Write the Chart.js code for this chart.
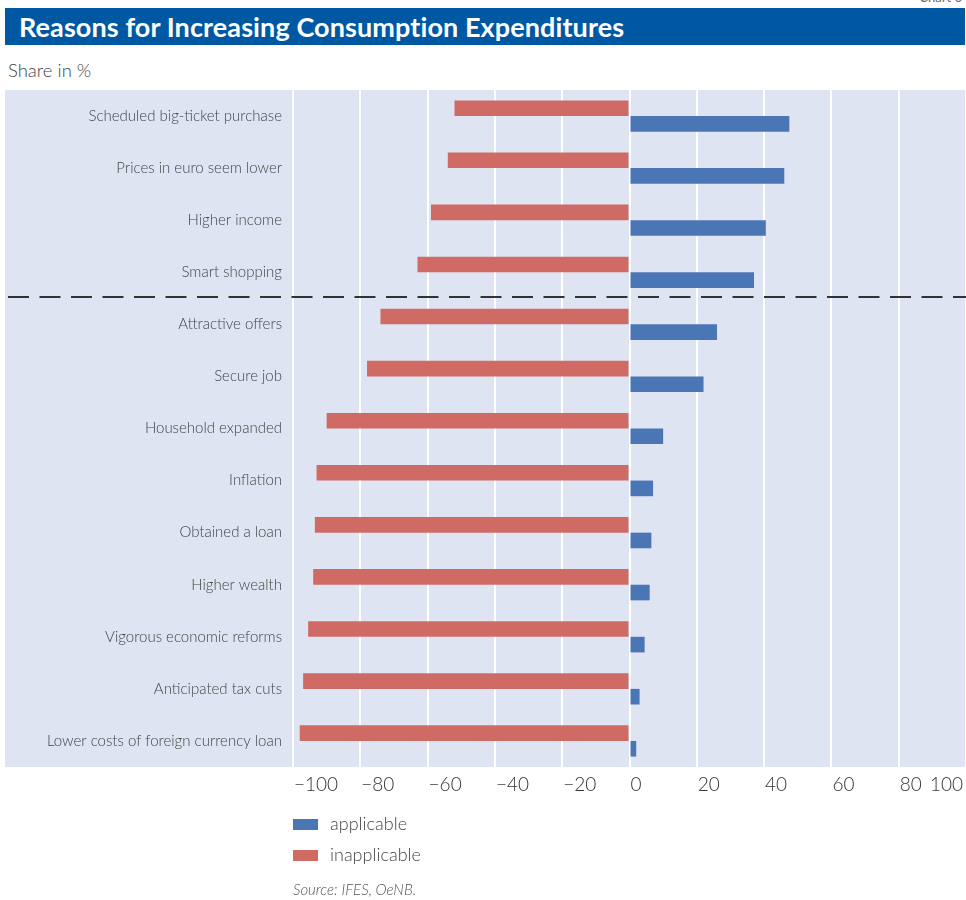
<!DOCTYPE html>
<html>
<head>
<meta charset="utf-8">
<script src="https://cdn.jsdelivr.net/npm/chart.js@4.4.1/dist/chart.umd.min.js"></script>
<style>
  html, body { margin: 0; padding: 0; background: #fff; }
  body { width: 966px; height: 900px; position: relative; overflow: hidden; font-family: Lato, "Open Sans", sans-serif; color: #444; }
  #chartNo { position: absolute; right: 4px; top: -11px; font-size: 13px; color: #666; }
  #titleBar { position: absolute; left: 5px; top: 8px; width: 960px; height: 37px; background: #0058a3; }
  #titleBar span { position: absolute; left: 14px; top: 2px; font-size: 27px; font-weight: 700; color: #fff; letter-spacing: 0.1px; }
  #unit { position: absolute; left: 8px; top: 59px; font-size: 18.5px; font-weight: 300; }
  #wrap { position: absolute; left: 0; top: 0; width: 966px; height: 900px; }
  .leg { position: absolute; left: 293px; font-size: 18px; font-weight: 300; }
  .leg i { position: absolute; left: 0; width: 25px; height: 11px; }
  .leg span { position: absolute; left: 37px; top: -7px; white-space: nowrap; }
  #source { position: absolute; left: 293px; top: 880px; font-size: 15px; font-style: italic; color: #555; font-weight: 300; }
</style>
</head>
<body>
<div id="chartNo">Chart 6</div>
<div id="titleBar"><span>Reasons for Increasing Consumption Expenditures</span></div>
<div id="unit">Share in %</div>
<div id="wrap"><canvas id="c" width="966" height="900"></canvas></div>
<div class="leg" style="top:819px"><i style="background:#4a76b6"></i><span>applicable</span></div>
<div class="leg" style="top:850px"><i style="background:#d06a65"></i><span>inapplicable</span></div>
<div id="source">Source: IFES, OeNB.</div>
<script>
const blue = '#4a76b6';
const red = '#d06a65';
const plotBg = '#dfe4f2';

const categories = [
  'Scheduled big-ticket purchase',
  'Prices in euro seem lower',
  'Higher income',
  'Smart shopping',
  'Attractive offers',
  'Secure job',
  'Household expanded',
  'Inflation',
  'Obtained a loan',
  'Higher wealth',
  'Vigorous economic reforms',
  'Anticipated tax cuts',
  'Lower costs of foreign currency loan'
];
const applicable = [47.5, 46, 40.5, 37, 26, 22, 10, 7, 6.5, 6, 4.5, 3, 2];
const inapplicable = [-52, -54, -59, -63, -74, -78, -90, -93, -93.5, -94, -95.5, -97, -98];
const xTicks = [-100, -80, -60, -40, -20, 0, 20, 40, 60, 80, 100];

// background covers label area too, plus dashed separator
const backdrop = {
  id: 'backdrop',
  beforeDraw(chart) {
    const { ctx, chartArea } = chart;
    ctx.save();
    ctx.fillStyle = plotBg;
    ctx.fillRect(5, chartArea.top, chartArea.right - 5, chartArea.bottom - chartArea.top);
    ctx.restore();
  },
  afterDatasetsDraw(chart) {
    const { ctx, chartArea } = chart;
    const y = Math.round(chart.scales.y.getPixelForValue(3.5)) - 1;
    ctx.save();
    ctx.strokeStyle = '#333';
    ctx.lineWidth = 2;
    ctx.setLineDash([21, 10.5]);
    ctx.beginPath();
    ctx.moveTo(8, y);
    ctx.lineTo(chartArea.right, y);
    ctx.stroke();
    ctx.restore();
  },
  afterDraw(chart) {
    // x tick labels sit left-aligned on their gridline, last one pulled inside
    const { ctx } = chart;
    const sx = chart.scales.x;
    ctx.save();
    ctx.font = '300 19px Lato, "Open Sans", sans-serif';
    ctx.fillStyle = '#333';
    ctx.textBaseline = 'middle';
    xTicks.forEach((v, i) => {
      const x = sx.getPixelForValue(v);
      const txt = v < 0 ? '\u2212' + Math.abs(v) : String(v);
      if (i === xTicks.length - 1) {
        ctx.textAlign = 'right';
        ctx.fillText(txt, x - 3, 785);
      } else {
        ctx.textAlign = 'left';
        ctx.fillText(txt, x + 1, 785);
      }
    });
    ctx.restore();
  }
};

new Chart(document.getElementById('c'), {
  type: 'bar',
  data: {
    labels: categories,
    datasets: [
      { label: 'inapplicable', data: inapplicable, backgroundColor: red, categoryPercentage: 0.6, barPercentage: 1 },
      { label: 'applicable', data: applicable, backgroundColor: blue, categoryPercentage: 0.6, barPercentage: 1 }
    ]
  },
  options: {
    indexAxis: 'y',
    responsive: false,
    animation: false,
    layout: { padding: { top: 90, bottom: 133, left: 5, right: 0 } },
    plugins: { legend: { display: false }, tooltip: { enabled: false } },
    scales: {
      x: {
        min: -100, max: 100,
        afterBuildTicks(scale) { scale.ticks = xTicks.map(v => ({ value: v })); },
        ticks: { display: false },
        grid: { color: '#fff', lineWidth: 2, drawTicks: false },
        border: { display: false }
      },
      y: {
        afterFit(scale) { scale.width = 288; },
        ticks: { padding: 11, color: '#444', font: { family: 'Lato, "Open Sans", sans-serif', size: 15, weight: 300 } },
        grid: { display: false, drawTicks: false },
        border: { display: false }
      }
    }
  },
  plugins: [backdrop]
});
</script>
</body>
</html>
